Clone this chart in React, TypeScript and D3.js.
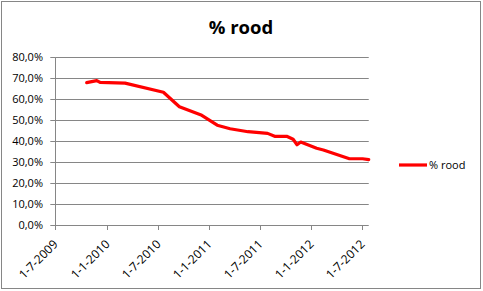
import React from "react";
import * as d3 from "d3";

const dates: string[] = [
  "2009-10-21", "2009-11-26", "2009-12-08", "2010-03-07", "2010-07-22",
  "2010-09-17", "2010-12-06", "2011-01-30", "2011-03-17", "2011-05-20",
  "2011-07-29", "2011-08-23", "2011-10-05", "2011-10-28", "2011-11-11",
  "2011-11-24", "2012-01-20", "2012-02-13", "2012-05-16", "2012-07-02",
  "2012-07-24",
];
const values: number[] = [
  67.9, 68.9, 68.0, 67.7, 63.3,
  56.4, 52.3, 47.6, 45.9, 44.5,
  43.7, 42.3, 42.3, 40.9, 38.3,
  39.6, 36.6, 35.8, 31.6, 31.6,
  31.2,
];
const xTickLabels: string[] = [
  "1-7-2009", "1-1-2010", "1-7-2010", "1-1-2011", "1-7-2011", "1-1-2012", "1-7-2012",
];
const yTicks: number[] = [0, 10, 20, 30, 40, 50, 60, 70, 80];
const seriesName = "% rood";

const W = 483;
const H = 291;
const font = "'Open Sans', 'Liberation Sans', sans-serif";

function parseNL(s: string): Date {
  const [d, m, y] = s.split("-").map(Number);
  return new Date(Date.UTC(y, m - 1, d));
}

export default function App() {
  const parse = d3.utcParse("%Y-%m-%d");
  const data = dates.map((d, i) => ({ date: parse(d) as Date, v: values[i] }));
  const x0 = parseNL(xTickLabels[0]);
  const xEnd = data[data.length - 1].date;
  const plotLeft = 55.3;
  const x7 = parseNL(xTickLabels[xTickLabels.length - 1]);
  const pxPerMs = (362.3 - plotLeft) / (x7.getTime() - x0.getTime());
  const x = d3
    .scaleUtc()
    .domain([x0, xEnd])
    .range([plotLeft, plotLeft + pxPerMs * (xEnd.getTime() - x0.getTime())]);
  const y = d3.scaleLinear().domain([0, 80]).range([225, 57.3]);
  const line = d3
    .line<{ date: Date; v: number }>()
    .x((d) => x(d.date))
    .y((d) => y(d.v));
  const xr = x.range();
  const fmt = (v: number) => v.toFixed(1).replace(".", ",") + "%";

  return (
    <div style={{ position: "fixed", left: 0, top: 0 }}>
      <svg width={W} height={H} style={{ display: "block" }}>
        <rect x={0} y={0} width={W} height={H} fill="#fff" />
        <rect x={1.5} y={1.5} width={479} height={287} fill="none" stroke="#868686" strokeWidth={1} />
        <text x={241} y={34} textAnchor="middle" fontFamily={font} fontWeight="bold" fontSize={18.5} fill="#000">
          {seriesName}
        </text>
        {yTicks.map((t) => (
          <g key={t}>
            {t > 0 && (
              <line x1={xr[0]} x2={xr[1]} y1={Math.round(y(t)) + 0.5} y2={Math.round(y(t)) + 0.5} stroke="#868686" />
            )}
            <line x1={xr[0] - 5} x2={xr[0]} y1={Math.round(y(t)) + 0.5} y2={Math.round(y(t)) + 0.5} stroke="#868686" />
            <text x={43} y={y(t) + 4} textAnchor="end" fontFamily={font} fontSize={11} fill="#000">
              {fmt(t)}
            </text>
          </g>
        ))}
        <line x1={Math.round(xr[0]) + 0.5} x2={Math.round(xr[0]) + 0.5} y1={y(80)} y2={y(0)} stroke="#868686" />
        <line x1={xr[0]} x2={xr[1]} y1={Math.round(y(0)) + 0.5} y2={Math.round(y(0)) + 0.5} stroke="#868686" />
        {xTickLabels.map((lbl) => {
          const px = Math.round(x(parseNL(lbl))) + 0.5;
          return (
            <g key={lbl}>
              <line x1={px} x2={px} y1={y(0)} y2={y(0) + 5} stroke="#868686" />
              <text
                transform={`translate(${px + 3},${y(0) + 20}) rotate(-45)`}
                textAnchor="end"
                fontFamily={font}
                fontSize={12}
                fill="#000"
              >
                {lbl}
              </text>
            </g>
          );
        })}
        <path d={line(data) || ""} fill="none" stroke="#ff0000" strokeWidth={3.2} strokeLinejoin="round" strokeLinecap="round" />
        <line x1={399} x2={427} y1={165} y2={165} stroke="#ff0000" strokeWidth={3.2} />
        <text x={429} y={169} fontFamily={font} fontSize={11} fill="#000">
          {seriesName}
        </text>
      </svg>
    </div>
  );
}
